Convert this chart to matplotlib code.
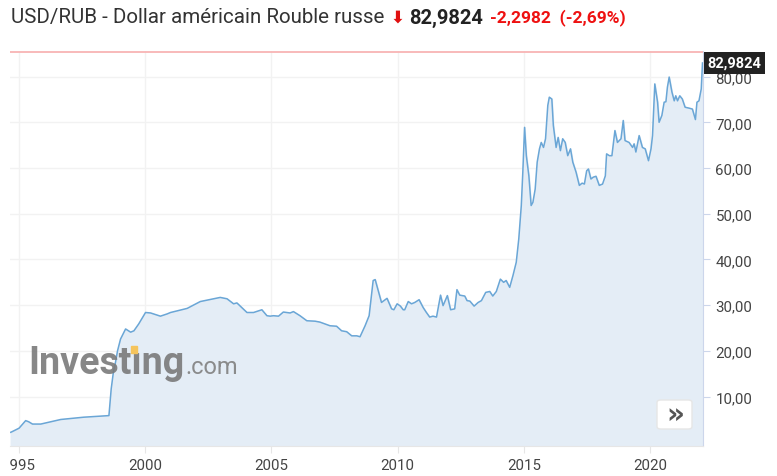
import matplotlib
matplotlib.use("Agg")
import matplotlib.pyplot as plt
from matplotlib.patches import Rectangle, FancyBboxPatch
from matplotlib.transforms import Bbox

# USD/RUB (decimal year, rate)
years = [1994.67, 1994.71, 1995.00, 1995.26, 1995.38, 1995.53, 1995.86, 1996.65, 1997.56,
         1998.56, 1998.65, 1998.74, 1998.82, 1998.90, 1999.02, 1999.22, 1999.42, 1999.55,
         1999.74, 2000.01, 2000.21, 2000.60, 2000.87, 2001.00, 2001.66, 2002.18, 2002.97,
         2003.24, 2003.50, 2003.63, 2004.03, 2004.29, 2004.62, 2004.82, 2004.95, 2005.08,
         2005.28, 2005.47, 2005.74, 2005.87, 2006.13, 2006.40, 2006.73, 2006.92, 2007.12,
         2007.32, 2007.58, 2007.78, 2007.98, 2008.18, 2008.38, 2008.51, 2008.71, 2008.87,
         2009.03, 2009.11, 2009.23, 2009.36, 2009.58, 2009.76, 2009.85, 2009.98, 2010.11,
         2010.22, 2010.28, 2010.42, 2010.55, 2010.68, 2010.85, 2011.01, 2011.14, 2011.27,
         2011.40, 2011.54, 2011.70, 2011.80, 2011.97, 2012.10, 2012.26, 2012.35, 2012.46,
         2012.66, 2012.75, 2012.86, 2013.03, 2013.19, 2013.32, 2013.49, 2013.65, 2013.77,
         2013.91, 2014.07, 2014.20, 2014.30, 2014.44, 2014.57, 2014.70, 2014.80, 2014.90,
         2014.96, 2015.03, 2015.10, 2015.20, 2015.29, 2015.36, 2015.45, 2015.53, 2015.62,
         2015.69, 2015.78, 2015.86, 2015.95, 2016.01, 2016.11, 2016.17, 2016.28, 2016.36,
         2016.45, 2016.54, 2016.64, 2016.74, 2016.85, 2016.94, 2017.07, 2017.20, 2017.31,
         2017.40, 2017.49, 2017.56, 2017.66, 2017.75, 2017.86, 2017.99, 2018.12, 2018.23,
         2018.28, 2018.39, 2018.49, 2018.61, 2018.71, 2018.85, 2018.94, 2019.01, 2019.17,
         2019.31, 2019.37, 2019.44, 2019.57, 2019.70, 2019.81, 2019.94, 2020.04, 2020.10,
         2020.19, 2020.30, 2020.36, 2020.47, 2020.56, 2020.63, 2020.69, 2020.76, 2020.87,
         2020.96, 2021.02, 2021.09, 2021.18, 2021.28, 2021.39, 2021.55, 2021.68, 2021.80,
         2021.86, 2021.94, 2022.03, 2022.08]
rates = [2.2, 2.3, 3.1, 4.75, 4.5, 4.0, 4.0, 5.0, 5.5,
         5.85, 11.7, 15.5, 17.5, 20.0, 22.6, 24.8, 24.1, 24.4,
         25.9, 28.4, 28.3, 27.6, 28.1, 28.4, 29.3, 30.8, 31.7,
         31.4, 30.3, 30.5, 28.4, 28.4, 29.0, 27.7, 27.6, 27.7,
         27.6, 28.5, 28.3, 28.6, 27.7, 26.6, 26.5, 26.3, 25.9,
         25.5, 25.4, 24.4, 24.2, 23.3, 23.3, 23.1, 25.5, 27.7,
         35.4, 35.6, 33.2, 30.6, 31.5, 29.2, 29.0, 30.3, 29.8,
         29.0, 29.0, 30.8, 30.3, 30.6, 31.2, 29.5, 28.4, 27.4,
         27.6, 27.4, 32.2, 29.9, 32.1, 29.0, 29.2, 33.4, 32.2,
         32.0, 31.0, 30.9, 29.8, 30.6, 31.0, 32.8, 33.0, 32.0,
         33.0, 35.7, 35.0, 35.4, 33.9, 36.5, 39.4, 44.5, 51.8,
         59.1, 68.9, 62.7, 58.3, 51.8, 52.5, 55.4, 61.3, 64.2,
         65.6, 64.5, 66.4, 73.7, 75.5, 75.1, 69.3, 64.5, 66.7,
         63.8, 66.4, 65.6, 62.7, 64.2, 61.3, 59.1, 56.2, 56.7,
         56.5, 59.4, 59.8, 57.6, 58.0, 58.2, 56.2, 56.5, 58.3,
         63.1, 62.7, 62.7, 68.2, 65.6, 66.4, 70.4, 66.0, 65.6,
         64.5, 65.3, 63.5, 67.1, 64.5, 64.2, 61.6, 64.2, 67.1,
         78.4, 74.4, 70.0, 71.5, 74.4, 74.5, 77.7, 79.9, 76.6,
         74.7, 75.8, 74.7, 75.8, 75.1, 73.3, 73.1, 72.9, 70.6,
         74.4, 74.7, 77.3, 82.9824]

last_price = "82,9824"
prev_close = 85.2806
change_text = "-2,2982  (-2,69%)"
x_ticks = [1995, 2000, 2005, 2010, 2015, 2020]
y_ticks = [10, 20, 30, 40, 50, 60, 70, 80]

W, H = 777, 477
fig = plt.figure(figsize=(W / 100, H / 100), dpi=100)
fig.patch.set_facecolor("white")
ax = fig.add_axes([10 / W, 1 - 447 / H, 693 / W, 395 / H])

ax.fill_between(years, rates, -5, color="#e4edf6", zorder=1)
ax.plot(years, rates, color="#6aa6d6", lw=1.1, zorder=3)
ax.axhline(prev_close, color="#f8b4b4", lw=1.3, zorder=4)

ax.set_xlim(1994.64, 2022.1)
ax.set_ylim(-0.8, 85.6)

ax.set_xticks(x_ticks)
ax.set_xticklabels([str(y) for y in x_ticks])
ax.set_yticks(y_ticks)
ax.set_yticklabels([f"{v},00" for v in y_ticks])
ax.yaxis.tick_right()
ax.tick_params(axis="x", length=5, color="#e6e6e6", labelsize=10.8, labelcolor="#444444", pad=4)
ax.tick_params(axis="y", length=5, color="#ccd6eb", labelsize=10.8, labelcolor="#444444", pad=4)
# the chart container cuts everything left of x=10 px (the "1" of 1995)
clip = Bbox.from_extents(10, 0, W, H)
for lab in ax.get_xticklabels() + ax.get_yticklabels():
    lab.set_family("Roboto")
    lab.set_clip_box(clip)
    lab.set_clip_on(True)

ax.grid(True, color="#f2f2f2", lw=1, zorder=0)
ax.set_axisbelow(True)
for s in ["top", "left"]:
    ax.spines[s].set_visible(False)
ax.spines["bottom"].set_color("#e6e6e6")
ax.spines["right"].set_color("#ccd6eb")

# price label on the right
ax.text(1.006, (rates[-1] + 0.8) / 86.4, last_price, transform=ax.transAxes,
        ha="left", va="center", color="white", fontsize=10.5, fontweight="bold",
        family="Roboto",
        bbox=dict(boxstyle="square,pad=0.25", fc="#222222", ec="none"))

# title
def px(x, y):
    return x / W, 1 - y / H

fig.text(*px(11, 18), "USD/RUB - Dollar américain Rouble russe", ha="left", va="center",
         fontsize=14.8, color="#333333", family="Roboto")
fig.text(*px(397, 18), "\u2b07", ha="center", va="center", fontsize=12, fontweight="bold",
         color="#e01010", family=["DejaVu Sans"])
fig.text(*px(409, 18), last_price, ha="left", va="center", fontsize=14.5,
         fontweight="bold", color="#222222", family="Roboto")
fig.text(*px(490, 18), change_text, ha="left", va="center", fontsize=12.5,
         fontweight="bold", color="#ee1111", family="Roboto")

# watermark
fig.text(*px(28, 364), "Investıng", ha="left", va="center", fontsize=27,
         fontweight="bold", color="#7a7a7a", alpha=0.9, family="Roboto", zorder=5)
fig.text(*px(185, 368), ".com", ha="left", va="center", fontsize=17,
         color="#808080", alpha=0.9, family="Roboto", zorder=5)
fig.patches.append(Rectangle(px(131, 354), 6 / W, 7 / H, transform=fig.transFigure,
                             color="#f5c45c", zorder=6))

# scroll button
fig.patches.append(FancyBboxPatch(px(657, 430), 35 / W, 29 / H,
                                  boxstyle="round,pad=0,rounding_size=0.005",
                                  transform=fig.transFigure, fc="white",
                                  ec="#e6e6e6", lw=1, zorder=6))
fig.text(*px(675, 415), "»", ha="center", va="center", fontsize=20, fontweight="bold",
         color="#555555", family="DejaVu Sans", zorder=7)

fig.savefig("out.png", dpi=100)
